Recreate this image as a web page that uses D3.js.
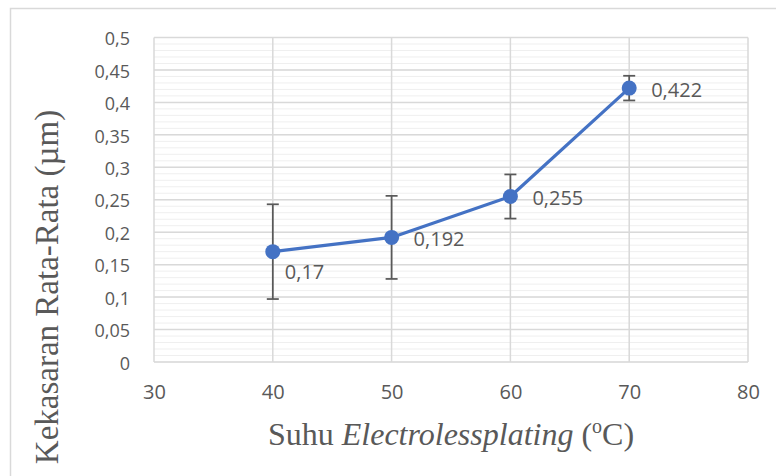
<!DOCTYPE html>
<html>
<head>
<meta charset="utf-8">
<script src="https://cdn.jsdelivr.net/npm/d3@7"></script>
<style>
  body { margin: 0; background: #fff; }
  svg { display: block; }
</style>
</head>
<body>
<div id="chart"></div>
<script>
'use strict';

// data
var temps = [40, 50, 60, 70];
var roughness = [0.17, 0.192, 0.255, 0.422];
var errors = [0.073, 0.064, 0.034, 0.019];
var xTicks = [30, 40, 50, 60, 70, 80];
var yMax = 0.5;

var W = 776, H = 476;
var textColor = "#595959";
var blue = "#4472C4";

var locale = d3.formatLocale({ decimal: ",", thousands: ".", grouping: [3], currency: ["", ""] });
var fmt = locale.format("~g");

var svg = d3.select("#chart").append("svg")
  .attr("width", W)
  .attr("height", H);

// outer chart border
svg.append("rect")
  .attr("x", 10.5).attr("y", 8.5)
  .attr("width", 800).attr("height", 500)
  .attr("fill", "none")
  .attr("stroke", "#d9d9d9")
  .attr("stroke-width", 1.5);

var x = d3.scaleLinear().domain([30, 80]).range([154, 748]);
var y = d3.scaleLinear().domain([0, yMax]).range([362, 37.5]);

var grid = svg.append("g");

// minor horizontal grid every 0.01
grid.selectAll("line.minor")
  .data(y.ticks(50))
  .enter().append("line")
  .attr("class", "minor")
  .attr("x1", x.range()[0]).attr("x2", x.range()[1])
  .attr("y1", function (d) { return y(d); })
  .attr("y2", function (d) { return y(d); })
  .attr("stroke", "#efefef")
  .attr("stroke-width", 1);

// major horizontal grid
grid.selectAll("line.hmajor")
  .data(y.ticks(10))
  .enter().append("line")
  .attr("class", "hmajor")
  .attr("x1", x.range()[0]).attr("x2", x.range()[1])
  .attr("y1", function (d) { return y(d); })
  .attr("y2", function (d) { return y(d); })
  .attr("stroke", "#d9d9d9")
  .attr("stroke-width", 1.5);

// vertical grid
grid.selectAll("line.vmajor")
  .data(xTicks)
  .enter().append("line")
  .attr("class", "vmajor")
  .attr("x1", function (d) { return x(d); })
  .attr("x2", function (d) { return x(d); })
  .attr("y1", y(0)).attr("y2", y(yMax))
  .attr("stroke", "#d9d9d9")
  .attr("stroke-width", 1.5);

// y axis labels
var yAxis = svg.append("g")
  .attr("transform", "translate(" + (x.range()[0] - 24) + ",0)")
  .call(d3.axisLeft(y).tickValues(y.ticks(10)).tickFormat(fmt).tickSize(0).tickPadding(0));
yAxis.select(".domain").remove();
yAxis.selectAll("text")
  .attr("fill", textColor)
  .attr("font-family", "'Open Sans', sans-serif")
  .attr("font-size", 18)
  .attr("dy", "0.4em");

// x axis labels
var xAxis = svg.append("g")
  .attr("transform", "translate(0," + y(0) + ")")
  .call(d3.axisBottom(x).tickValues(xTicks).tickFormat(fmt).tickSize(0).tickPadding(0));
xAxis.select(".domain").remove();
xAxis.selectAll("text")
  .attr("fill", textColor)
  .attr("font-family", "'Open Sans', sans-serif")
  .attr("font-size", 20)
  .attr("dy", "1.85em");

// error bars
var err = svg.append("g")
  .attr("stroke", "#595959")
  .attr("stroke-width", 1.75)
  .attr("fill", "none");

temps.forEach(function (t, i) {
  var lo = y(roughness[i] - errors[i]);
  var hi = y(roughness[i] + errors[i]);
  var cx = x(t);
  err.append("line").attr("x1", cx).attr("x2", cx).attr("y1", lo).attr("y2", hi);
  err.append("line").attr("x1", cx - 6).attr("x2", cx + 6).attr("y1", lo).attr("y2", lo);
  err.append("line").attr("x1", cx - 6).attr("x2", cx + 6).attr("y1", hi).attr("y2", hi);
});

// series line
var line = d3.line()
  .x(function (d, i) { return x(temps[i]); })
  .y(function (d) { return y(d); });

svg.append("path")
  .datum(roughness)
  .attr("d", line)
  .attr("fill", "none")
  .attr("stroke", blue)
  .attr("stroke-width", 3.2)
  .attr("stroke-linejoin", "round");

svg.selectAll("circle.pt")
  .data(roughness)
  .enter().append("circle")
  .attr("class", "pt")
  .attr("cx", function (d, i) { return x(temps[i]); })
  .attr("cy", function (d) { return y(d); })
  .attr("r", 7.5)
  .attr("fill", blue);

// data labels: first one sits below right, the rest to the right
svg.selectAll("text.lbl")
  .data(roughness)
  .enter().append("text")
  .attr("class", "lbl")
  .attr("x", function (d, i) { return x(temps[i]) + (i === 0 ? 12 : 22); })
  .attr("y", function (d, i) { return y(d) + (i === 0 ? 27 : 8.5); })
  .attr("fill", textColor)
  .attr("font-family", "'Open Sans', sans-serif")
  .attr("font-size", 20)
  .text(function (d) { return fmt(d); });

// axis titles
var yTitle = svg.append("text")
  .attr("transform", "translate(58," + 287 + ") rotate(-90)")
  .attr("text-anchor", "middle")
  .attr("fill", textColor)
  .attr("font-family", "'Liberation Serif', 'Times New Roman', serif")
  .attr("font-size", 33)
  .text("Kekasaran Rata-Rata (µm)");

var xTitle = svg.append("text")
  .attr("x", (x.range()[0] + x.range()[1]) / 2)
  .attr("y", 445)
  .attr("text-anchor", "middle")
  .attr("fill", textColor)
  .attr("font-family", "'Liberation Serif', 'Times New Roman', serif")
  .attr("font-size", 32);
xTitle.append("tspan").text("Suhu ");
xTitle.append("tspan").attr("font-style", "italic").text("Electrolessplating");
xTitle.append("tspan").text(" (");
xTitle.append("tspan").attr("font-size", 20).attr("dy", -12).text("o");
xTitle.append("tspan").attr("dy", 12).text("C)");
</script>
</body>
</html>
